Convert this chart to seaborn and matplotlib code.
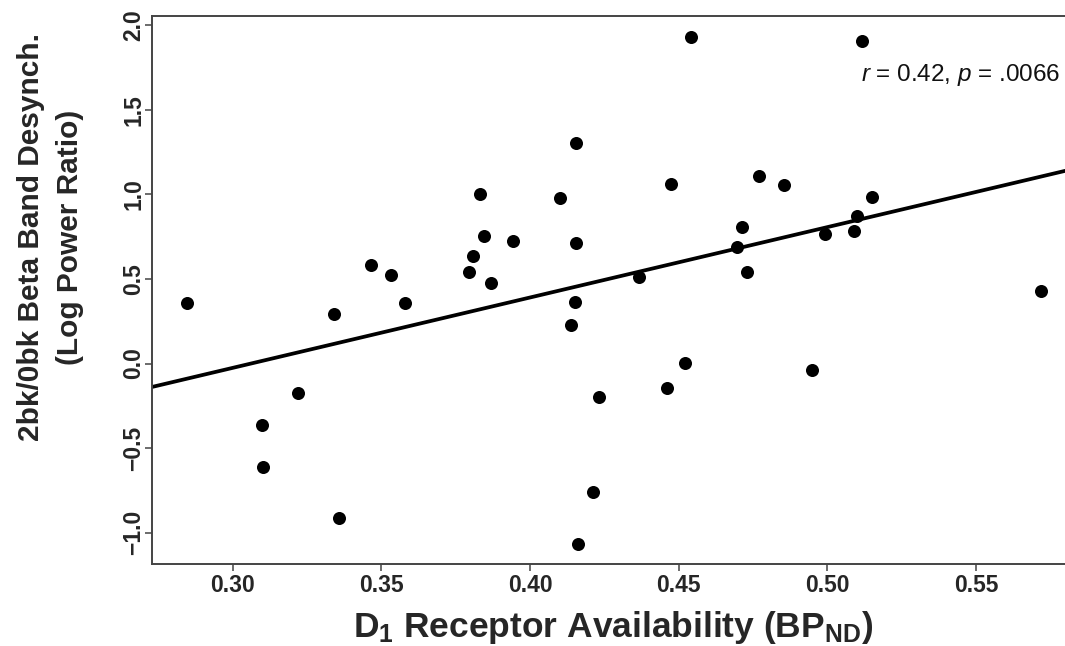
import matplotlib
matplotlib.use("Agg")
import matplotlib.pyplot as plt
import numpy as np
import pandas as pd
import seaborn as sns

# ---- data ----
d1_bp = [0.2845, 0.3340, 0.3220, 0.3099, 0.3101, 0.3356, 0.3466, 0.3533,
         0.3578, 0.3831, 0.3845, 0.3808, 0.3794, 0.3867, 0.3944, 0.4100,
         0.4154, 0.4150, 0.4139, 0.4542, 0.4155, 0.4473, 0.4772, 0.4854,
         0.5151, 0.5101, 0.5090, 0.4991, 0.4714, 0.4697, 0.4731, 0.4368,
         0.4523, 0.4948, 0.4462, 0.4232, 0.4213, 0.4162, 0.5118, 0.5718]
beta_desynch = [0.356, 0.291, -0.176, -0.362, -0.610, -0.911, 0.582, 0.521,
                0.359, 1.000, 0.752, 0.635, 0.543, 0.474, 0.722, 0.978,
                0.714, 0.365, 0.226, 1.928, 1.301, 1.063, 1.110, 1.055,
                0.986, 0.872, 0.785, 0.767, 0.807, 0.690, 0.543, 0.513,
                0.003, -0.037, -0.145, -0.200, -0.758, -1.065, 1.906, 0.428]

x_ticks = [0.30, 0.35, 0.40, 0.45, 0.50, 0.55]
x_tick_labels = ["0.30", "0.35", "0.40", "0.45", "0.50", "0.55"]
y_ticks = [-1.0, -0.5, 0.0, 0.5, 1.0, 1.5, 2.0]
y_tick_labels = ["\u22121.0", "\u22120.5", "0.0", "0.5", "1.0", "1.5", "2.0"]

annotation = r"$\mathit{r}$ = 0.42, $\mathit{p}$ = .0066"
x_label = r"D$_\mathbf{1}$ Receptor Availability (BP$_\mathbf{ND}$)"
y_label = "2bk/0bk Beta Band Desynch.\n(Log Power Ratio)"

df = pd.DataFrame({"d1": d1_bp, "beta": beta_desynch})

# ---- style ----
sns.set_style("ticks")
plt.rcParams["font.family"] = ["Liberation Sans", "DejaVu Sans"]
plt.rcParams["mathtext.fontset"] = "custom"
plt.rcParams["mathtext.rm"] = "Liberation Sans"
plt.rcParams["mathtext.it"] = "Liberation Sans:italic"
plt.rcParams["mathtext.bf"] = "Liberation Sans:bold"

W, H = 1065, 646
fig = plt.figure(figsize=(W / 100, H / 100), dpi=100)
left, right, top, bottom = 152, 1065, 16, 564
ax = fig.add_axes([left / W, 1 - bottom / H, (right - left) / W, (bottom - top) / H])

xlim = (0.2728, 0.5800)
ylim = (-1.185, 2.054)
ax.set_xlim(*xlim)
ax.set_ylim(*ylim)

sns.regplot(data=df, x="d1", y="beta", ci=None, truncate=False, ax=ax,
            scatter_kws=dict(s=88, color="black", linewidths=0, alpha=1),
            line_kws=dict(color="black", lw=2.7))
ax.set_xlim(*xlim)
ax.set_ylim(*ylim)

spine_col = "#444444"
for s in ["left", "bottom", "top"]:
    ax.spines[s].set_visible(True)
    ax.spines[s].set_color(spine_col)
    ax.spines[s].set_linewidth(1.4)
ax.spines["right"].set_visible(False)

ax.set_xticks(x_ticks)
ax.set_xticklabels(x_tick_labels, fontsize=16.5, fontweight="bold")
ax.set_yticks(y_ticks)
ax.set_yticklabels(y_tick_labels, fontsize=16.5, fontweight="bold")
ax.tick_params(axis="x", direction="out", length=5, width=1.1, color=spine_col, pad=2)
ax.tick_params(axis="y", direction="out", length=5, width=1.1, color=spine_col, pad=0, labelrotation=90)
ax.tick_params(top=False, right=False)
for lab in ax.get_yticklabels():
    lab.set_va("center")

ax.set_xlabel("")
ax.set_ylabel("")

fig.text(613 / W, 1 - 628 / H, x_label, ha="center", va="center",
         fontsize=25.5, fontweight="bold")
fig.text(51 / W, 1 - 237 / H, y_label, ha="center", va="center", rotation=90,
         fontsize=21.5, fontweight="bold", linespacing=1.5, multialignment="center")

ax.annotate(annotation, xy=(1060 / W, 1 - 75 / H), xycoords="figure fraction",
            ha="right", va="center", fontsize=17.5, color="#111111")

fig.savefig("out.png", dpi=100)
